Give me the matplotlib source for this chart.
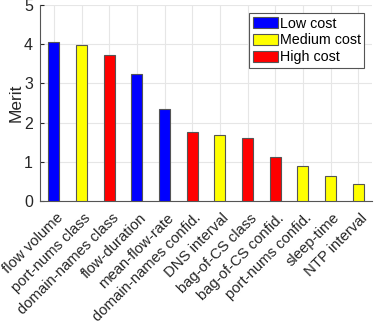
import numpy as np
import matplotlib.pyplot as plt
import matplotlib.transforms as mtransforms

plt.rcParams['font.family'] = ['Liberation Sans', 'DejaVu Sans']

features = ['flow volume', 'port-nums class', 'domain-names class', 'flow-duration',
            'mean-flow-rate', 'domain-names confid.', 'DNS interval', 'bag-of-CS class',
            'bag-of-CS confid.', 'port-nums confid.', 'sleep-time', 'NTP interval']
merit = [4.07, 3.97, 3.73, 3.23, 2.35, 1.76, 1.68, 1.60, 1.13, 0.88, 0.64, 0.43]
cost = ['low', 'medium', 'high', 'low', 'low', 'high', 'medium', 'high',
        'high', 'medium', 'medium', 'medium']

cost_names = {'low': 'Low cost', 'medium': 'Medium cost', 'high': 'High cost'}
cost_colors = {'low': '#0000ff', 'medium': '#ffff00', 'high': '#ff0000'}

fig = plt.figure(figsize=(3.74, 3.21), dpi=100)
ax = fig.add_axes([0.107, 0.374, 0.888, 0.61])

x = np.arange(1, len(features) + 1)
merit = np.array(merit)
for c in ['low', 'medium', 'high']:
    m = np.array([k == c for k in cost])
    ax.bar(x[m], merit[m], width=0.4, color=cost_colors[c], edgecolor='#555555',
           linewidth=0.8, label=cost_names[c], zorder=3)

ax.set_xlim(0.5, 12.5)
ax.set_ylim(0, 5)
ax.set_xticks(x)
ax.set_xticklabels([])
# matlab style rotated labels, sitting a bit right of the tick
shift = mtransforms.ScaledTranslation(0.02, -0.10, fig.dpi_scale_trans)
trans = ax.get_xaxis_transform() + shift
for xi, name in zip(x, features):
    ax.text(xi, 0, name, transform=trans, rotation=45, ha='right', va='top',
            rotation_mode='anchor', fontsize=10.7, color='#262626')
ax.set_yticks(range(6))
ax.tick_params(axis='y', labelsize=11.5, colors='#262626', direction='in', length=3, pad=5)
ax.tick_params(axis='x', length=0, pad=3)
ax.set_ylabel('Merit', fontsize=12.5, color='#262626', labelpad=0)
ax.grid(True, color='#e6e6e6', linewidth=0.8, zorder=0)
ax.spines['top'].set_visible(False)
ax.spines['right'].set_visible(False)
ax.spines['left'].set_color('#555555')
ax.spines['bottom'].set_color('#555555')

leg = ax.legend(loc='upper right', fontsize=10.3, fancybox=False, framealpha=1,
                edgecolor='#555555', handlelength=1.75, handleheight=0.8,
                borderaxespad=0.55, labelspacing=0.2, handletextpad=0.15,
                borderpad=0.25)
leg.get_frame().set_linewidth(0.8)

fig.savefig('out.png', dpi=100)
